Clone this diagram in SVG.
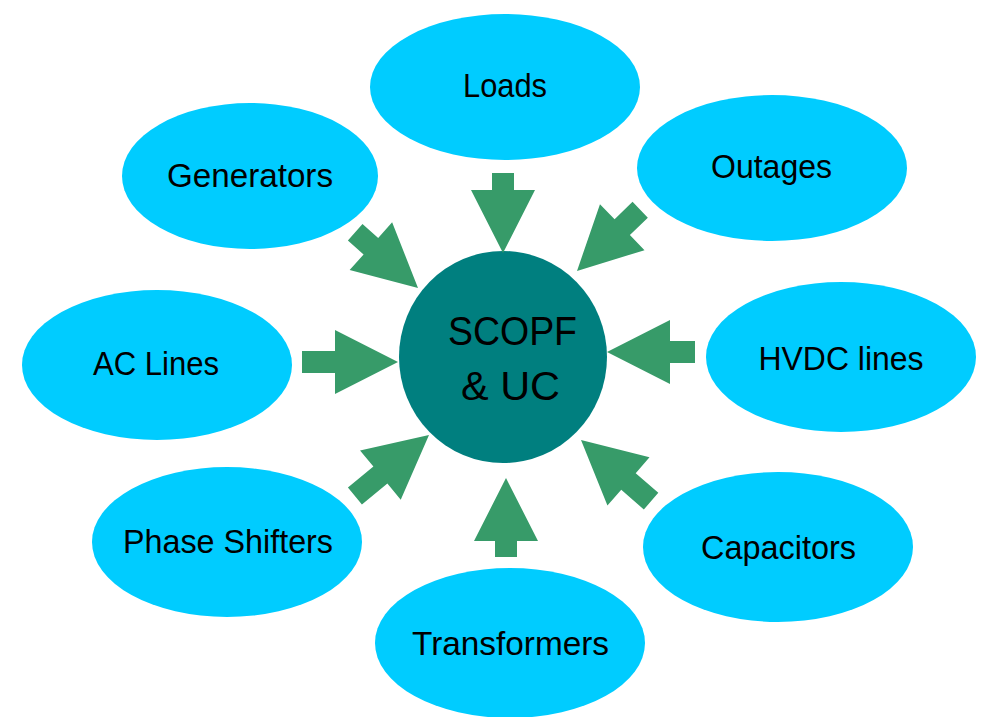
<svg xmlns="http://www.w3.org/2000/svg" width="982" height="717" viewBox="0 0 982 717">
  <style>
    .node ellipse { fill: #00CCFF; }
    .hub { fill: #007F7F; }
    .lbl { font-family: "Liberation Sans", Arial, sans-serif; font-size: 33px; fill: #000; text-anchor: middle; }
    .hubtxt { font-family: "Liberation Sans", Arial, sans-serif; font-size: 40px; fill: #000; text-anchor: middle; }
    .arrow { fill: #379B69; }
  </style>
  <defs>
    <!-- block arrow, tip at origin, pointing along +x -->
    <polygon id="head" points="-63,-11 -63,-32 0,0 -63,32 -63,11"/>
  </defs>
  <rect width="982" height="717" fill="#FFFFFF"/>

  <g id="loads" class="node">
    <ellipse cx="505" cy="87" rx="135" ry="73"/>
    <text class="lbl" x="505" y="97" textLength="84" lengthAdjust="spacingAndGlyphs">Loads</text>
  </g>
  <g id="outages" class="node">
    <ellipse cx="772" cy="168" rx="135" ry="73"/>
    <text class="lbl" x="771.5" y="178" textLength="121" lengthAdjust="spacingAndGlyphs">Outages</text>
  </g>
  <g id="hvdc" class="node">
    <ellipse cx="841" cy="357" rx="135" ry="75"/>
    <text class="lbl" x="841" y="370" textLength="165" lengthAdjust="spacingAndGlyphs">HVDC lines</text>
  </g>
  <g id="capacitors" class="node">
    <ellipse cx="778" cy="547" rx="135" ry="75"/>
    <text class="lbl" x="778.5" y="559" textLength="155" lengthAdjust="spacingAndGlyphs">Capacitors</text>
  </g>
  <g id="transformers" class="node">
    <ellipse cx="510" cy="643" rx="135" ry="75"/>
    <text class="lbl" x="510.5" y="655" textLength="197" lengthAdjust="spacingAndGlyphs">Transformers</text>
  </g>
  <g id="phase-shifters" class="node">
    <ellipse cx="227" cy="542" rx="135" ry="75"/>
    <text class="lbl" x="228" y="553" textLength="210" lengthAdjust="spacingAndGlyphs">Phase Shifters</text>
  </g>
  <g id="ac-lines" class="node">
    <ellipse cx="157" cy="365" rx="135" ry="75"/>
    <text class="lbl" x="156" y="375" textLength="126" lengthAdjust="spacingAndGlyphs">AC Lines</text>
  </g>
  <g id="generators" class="node">
    <ellipse cx="250" cy="176" rx="128" ry="73"/>
    <text class="lbl" x="250" y="187" textLength="166" lengthAdjust="spacingAndGlyphs">Generators</text>
  </g>

  <g id="scopf-uc">
    <ellipse class="hub" cx="503" cy="357" rx="104" ry="106"/>
    <text class="hubtxt" x="512.5" y="345" textLength="129" lengthAdjust="spacingAndGlyphs">SCOPF</text>
    <text class="hubtxt" x="510.5" y="400" textLength="99" lengthAdjust="spacingAndGlyphs">&amp; UC</text>
  </g>

  <g id="connectors" class="arrow">
    <!-- Loads -->
    <polygon transform="translate(503,253) rotate(90)" points="-80,-11 -63,-11 -63,-32 0,0 -63,32 -63,11 -80,11"/>
    <!-- Outages -->
    <polygon transform="translate(577,271) rotate(135.9)" points="-88,-11 -63,-11 -63,-32 0,0 -63,32 -63,11 -88,11"/>
    <!-- HVDC lines -->
    <polygon transform="translate(607,352) rotate(180)" points="-88,-11 -63,-11 -63,-32 0,0 -63,32 -63,11 -88,11"/>
    <!-- Capacitors -->
    <polygon transform="translate(581,440) rotate(-138.9)" points="-93,-11 -63,-11 -63,-32 0,0 -63,32 -63,11 -93,11"/>
    <!-- Transformers -->
    <polygon transform="translate(506,478) rotate(-90)" points="-79,-11 -63,-11 -63,-32 0,0 -63,32 -63,11 -79,11"/>
    <!-- Phase Shifters -->
    <polygon transform="translate(429,435) rotate(-39.5)" points="-96,-11 -63,-11 -63,-32 0,0 -63,32 -63,11 -96,11"/>
    <!-- AC Lines -->
    <polygon transform="translate(398,362)" points="-96,-11 -63,-11 -63,-32 0,0 -63,32 -63,11 -96,11"/>
    <!-- Generators -->
    <polygon transform="translate(418,288) rotate(41.6)" points="-84,-11 -63,-11 -63,-32 0,0 -63,32 -63,11 -84,11"/>
  </g>
</svg>
